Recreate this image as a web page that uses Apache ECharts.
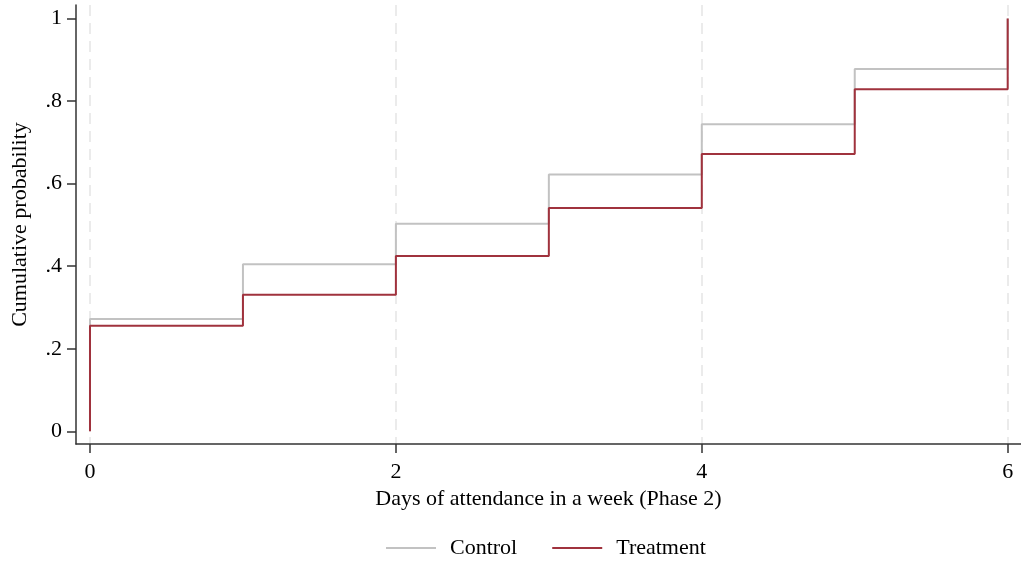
<!DOCTYPE html>
<html>
<head>
<meta charset="utf-8">
<script src="https://cdn.jsdelivr.net/npm/echarts@6/dist/echarts.min.js"></script>
<style>html,body{margin:0;padding:0;background:#fff;}#c{width:1021px;height:561px;}</style>
</head>
<body>
<div id="c"></div>
<script>
// Data
const days = [0, 0, 1, 2, 3, 4, 5, 6];
const control = [0, 0.272, 0.405, 0.503, 0.622, 0.744, 0.878, 1.0];
const treatment = [0, 0.256, 0.331, 0.425, 0.541, 0.672, 0.829, 1.0];
const xTicks = [0, 2, 4, 6];
const yTicks = [0, 0.2, 0.4, 0.6, 0.8, 1];
const seriesNames = ['Control', 'Treatment'];

const font = 'Liberation Serif, Times New Roman, serif';
const chart = echarts.init(document.getElementById('c'), null, {renderer: 'canvas'});
const pairs = (ys) => days.map((d, i) => [d, ys[i]]);

chart.setOption({
  animation: false,
  backgroundColor: '#ffffff',
  grid: {left: 76, right: 0, top: 5, bottom: 117, containLabel: false},
  xAxis: {
    type: 'value', min: -0.0915, max: 6.087,
    name: 'Days of attendance in a week (Phase 2)',
    nameLocation: 'middle', nameGap: 44,
    nameTextStyle: {fontFamily: font, fontSize: 22, color: '#000'},
    axisLine: {show: true, onZero: false, lineStyle: {color: '#333', width: 1.5}},
    axisTick: {show: true, length: 9, customValues: xTicks, lineStyle: {color: '#333', width: 1.5}},
    axisLabel: {customValues: xTicks, margin: 17, fontFamily: font, fontSize: 22, color: '#000',
      formatter: v => String(v)},
    splitLine: {show: true, lineStyle: {color: '#ebebeb', width: 2, type: [11, 7]}}
  },
  yAxis: {
    type: 'value', min: -0.0308, max: 1.033,
    name: 'Cumulative probability',
    nameLocation: 'middle', nameGap: 45,
    nameTextStyle: {fontFamily: font, fontSize: 22, color: '#000'},
    axisLine: {show: true, onZero: false, lineStyle: {color: '#333', width: 1.5}},
    axisTick: {show: true, length: 9, customValues: yTicks, lineStyle: {color: '#333', width: 1.5}},
    axisLabel: {customValues: yTicks, margin: 14, fontFamily: font, fontSize: 22, color: '#000',
      padding: [4, 0, 0, 0],
      formatter: v => (v === 0 ? '0' : v === 1 ? '1' : String(Math.round(v * 10) / 10).replace(/^0/, ''))},
    splitLine: {show: false}
  },
  legend: {
    left: 381, top: 532,
    itemWidth: 50, itemHeight: 2, itemGap: 35,
    icon: 'rect',
    textStyle: {fontFamily: font, fontSize: 22, color: '#000', padding: [0, 0, 0, 9]},
    data: seriesNames
  },
  series: [
    {
      type: 'line', name: seriesNames[0], step: 'end', data: pairs(control), z: 3,
      showSymbol: false, symbol: 'none',
      lineStyle: {color: '#c2c2c2', width: 2}, itemStyle: {color: '#c2c2c2'}
    },
    {
      type: 'line', name: seriesNames[1], step: 'end', data: pairs(treatment), z: 4,
      showSymbol: false, symbol: 'none',
      lineStyle: {color: '#a0323d', width: 2}, itemStyle: {color: '#a0323d'}
    }
  ]
});
</script>
</body>
</html>
